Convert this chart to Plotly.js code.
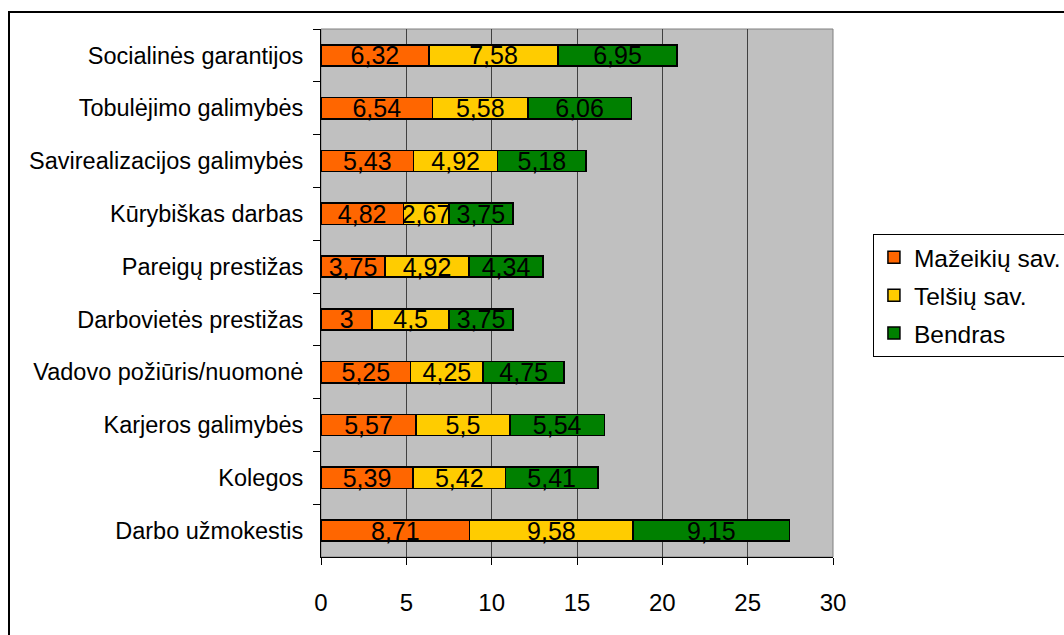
<!DOCTYPE html>
<html><head><meta charset="utf-8">
<script src="https://cdn.plot.ly/plotly-3.0.1.min.js"></script>
<style>
html,body{margin:0;padding:0;background:#fff;overflow:hidden}
#frame{position:absolute;left:8px;top:11px;width:1100px;height:700px;border:2px solid #000;box-sizing:border-box}
#chart{position:absolute;left:0;top:0;width:1064px;height:635px}
</style></head><body>
<div id="frame"></div>
<div id="chart"></div>
<script>
const categories = ["Socialinės garantijos","Tobulėjimo galimybės","Savirealizacijos galimybės","Kūrybiškas darbas","Pareigų prestižas","Darbovietės prestižas","Vadovo požiūris/nuomonė","Karjeros galimybės","Kolegos","Darbo užmokestis"];
const mazeikiai = [6.32,6.54,5.43,4.82,3.75,3,5.25,5.57,5.39,8.71];
const telsiai = [7.58,5.58,4.92,2.67,4.92,4.5,4.25,5.5,5.42,9.58];
const bendras = [6.95,6.06,5.18,3.75,4.34,3.75,4.75,5.54,5.41,9.15];
const seriesNames = ["Mažeikių sav.","Telšių sav.","Bendras"];
const colors = ["#ff6600","#ffcc00","#008000"];
const xTicks = [0,5,10,15,20,25,30];

const fmt = v => String(v).replace('.', ',');
const FONT = 'Liberation Sans, Arial, sans-serif';
const traces = [mazeikiai, telsiai, bendras].map((vals,i)=>({
  type:'bar', orientation:'h', y:categories, x:vals, name:seriesNames[i],
  legendgroup:'g'+i,
  marker:{color:colors[i], line:{color:'#000', width:1.5}},
  text: vals.map(fmt), textposition:'inside', insidetextanchor:'middle',
  textangle:0, constraintext:'none', cliponaxis:false,
  textfont:{family:FONT, size:25, color:'#000'},
  hoverinfo:'skip'
}));

const layout = {
  width:1064, height:635,
  margin:{l:321, r:231, t:29, b:78, pad:0, autoexpand:false},
  paper_bgcolor:'rgba(0,0,0,0)', plot_bgcolor:'#c0c0c0',
  barmode:'stack', bargap:0.6,
  font:{family:FONT, color:'#000'},
  showlegend:true,
  legend:{x:1.078, xanchor:'left', y:0.612, yanchor:'top', bgcolor:'#fff',
    bordercolor:'#000', borderwidth:1, font:{family:FONT, size:24.5, color:'#000'},
    traceorder:'grouped', tracegroupgap:3, itemwidth:30},
  xaxis:{range:[0,30], tickvals:xTicks, ticktext:xTicks.map(String),
    showgrid:true, gridcolor:'#404040', gridwidth:1, zeroline:false,
    showline:true, linecolor:'#000', linewidth:1, ticks:'outside', ticklen:7, tickcolor:'#000',
    tickfont:{family:FONT, size:24, color:'#000'}, ticklabelstandoff:17, fixedrange:true},
  yaxis:{autorange:'reversed', type:'category', showgrid:false, zeroline:false,
    showline:true, linecolor:'#000', linewidth:1, ticks:'outside', ticklen:7, tickcolor:'#000',
    tickson:'boundaries', tickfont:{family:FONT, size:23.5, color:'#000'},
    ticklabelstandoff:12, fixedrange:true},
  shapes:[{type:'rect', xref:'paper', yref:'paper', x0:0, x1:1, y0:0, y1:1,
    line:{color:'#808080', width:1}, layer:'below'}]
};
Plotly.newPlot('chart', traces, layout, {displayModeBar:false, staticPlot:true});
</script></body></html>
